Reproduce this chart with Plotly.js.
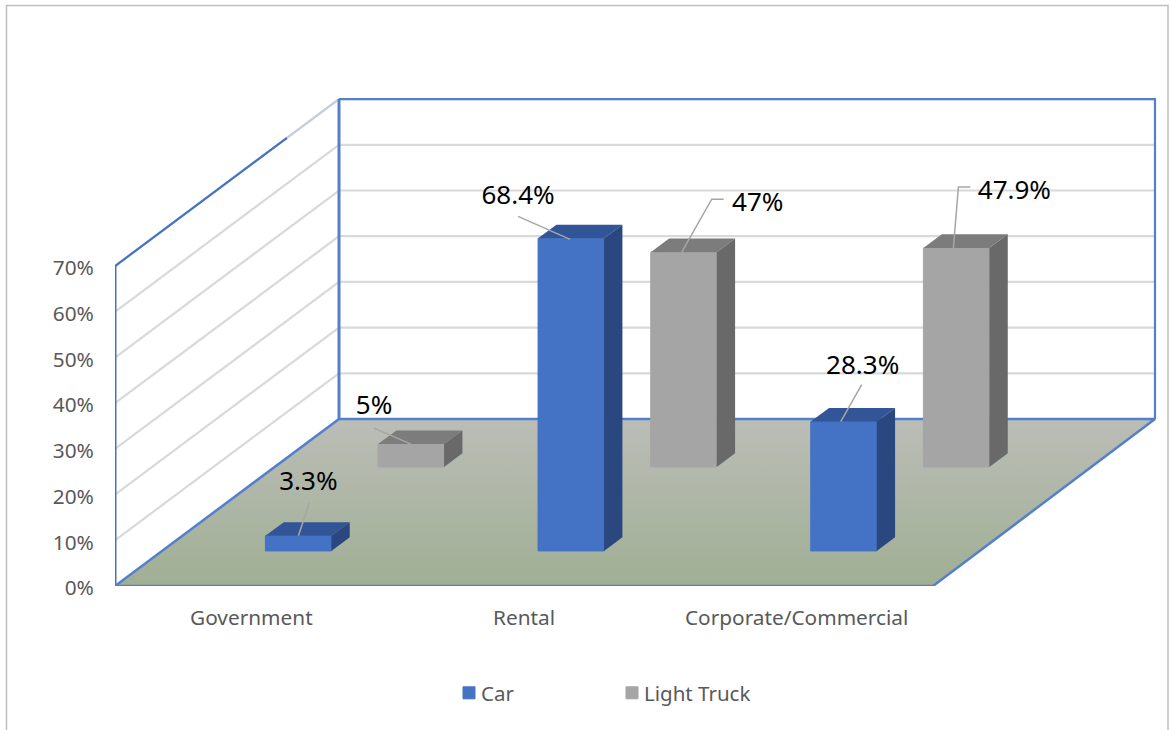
<!DOCTYPE html>
<html>
<head>
<meta charset="utf-8">
<script src="https://cdn.plot.ly/plotly-3.0.1.min.js"></script>
<style>html,body{margin:0;padding:0;background:#fff;overflow:hidden}</style>
</head>
<body>
<div id="chart" style="width:1170px;height:730px"></div>
<script>
// Chart data
const categories = ['Government', 'Rental', 'Corporate/Commercial'];
const carValues = [3.3, 68.4, 28.3];
const lightTruckValues = [5, 47, 47.9];
const axisTicks = [0, 10, 20, 30, 40, 50, 60, 70];
const axisTickLabels = ['0%', '10%', '20%', '30%', '40%', '50%', '60%', '70%'];

// Canvas geometry, in pixels
const W = 1170, H = 730;
const ORIGIN_X = 115, ORIGIN_Y = 586, RIGHT_X = 1160, TOP_Y = 90;
const PX_PER_CATEGORY = 272.67, PX_PER_PERCENT = 4.57;

// Oblique projection: depth 0 is the front of the floor, depth 1 the back wall
const SHEAR_X = 224 / PX_PER_CATEGORY;
const SHEAR_Y = 167 / PX_PER_PERCENT;
const BACK_RIGHT = (1155 - ORIGIN_X) / PX_PER_CATEGORY;
const BAR_WIDTH = 66 / PX_PER_CATEGORY;
const BAR_DEPTH = 0.082;
const CAR_DEPTH = 0.21, TRUCK_DEPTH = 0.713;
const pxX = px => px / PX_PER_CATEGORY;
const pxY = px => px / PX_PER_PERCENT;

const BLUE = '#4472C4', EDGE = '#5480CB', GRID = '#D9D9D9', LEADER = '#A6A6A6';
const FONT = '"Noto Sans", sans-serif';

// Leader lines and label centres, as pixel offsets from each bar's top front-left corner
const carLeaders = [[[33, 0], [44, 33]], [[32, -1], [-20, 22]], [[30, 0], [51, 37]]];
const truckLeaders = [[[33, 0], [-4, 16]], [[31, 0], [61, 53], [73, 53]], [[30, 0], [35, 61], [47, 61]]];
const carLabels = [[43, 52], [-20, 41], [52, 54]];
const truckLabels = [[-4, 37], [107, 48], [91, 56]];

function line(x, y, color, width, zorder) {
  return {type: 'scatter', mode: 'lines', x, y, showlegend: false, hoverinfo: 'skip', cliponaxis: false,
          line: {color, width}, zorder};
}

function poly(x, y, color, zorder) {
  return {type: 'scatter', mode: 'none', x, y, fill: 'toself', fillcolor: color, showlegend: false,
          hoverinfo: 'skip', cliponaxis: false, zorder};
}

// One series: a real bar trace for the front faces, polygons for the top and side faces,
// then leader lines and value labels.
function series(name, values, depth, colors, leaders, labels) {
  const dx = SHEAR_X * depth, dy = SHEAR_Y * depth;
  const cx = categories.map((_, i) => i + 0.5 + dx);
  const bx = SHEAR_X * BAR_DEPTH, by = SHEAR_Y * BAR_DEPTH;
  const hw = BAR_WIDTH / 2;
  const tx = [], ty = [], sx = [], sy = [], lx = [], ly = [], tex = [], tey = [];
  values.forEach((v, i) => {
    const L = cx[i] - hw, R = cx[i] + hw, top = dy + v;
    tx.push(L, R, R + bx, L + bx, L, null);
    ty.push(top, top, top + by, top + by, top, null);
    sx.push(R, R + bx, R + bx, R, R, null);
    sy.push(dy, dy + by, top + by, top, dy, null);
    leaders[i].forEach(o => { lx.push(L + pxX(o[0])); ly.push(top + pxY(o[1])); });
    lx.push(null); ly.push(null);
    tex.push(L + pxX(labels[i][0]));
    tey.push(top + pxY(labels[i][1]));
  });
  return [
    {type: 'bar', name, x: cx, y: values, base: values.map(() => dy), width: BAR_WIDTH,
     marker: {color: colors[0], line: {color: colors[0], width: 1}}, hoverinfo: 'skip', zorder: 3},
    poly(tx, ty, colors[1], 3),
    poly(sx, sy, colors[2], 3),
    line(lx, ly, LEADER, 1.5, 4),
    {type: 'scatter', mode: 'text', x: tex, y: tey, text: values.map(v => v + '%'),
     textposition: 'middle center', textfont: {family: FONT, size: 26, color: '#000'},
     showlegend: false, hoverinfo: 'skip', cliponaxis: false, zorder: 5}
  ];
}

const traces = [];

// Gridlines run along the left wall, then across the back wall
axisTicks.slice(1).forEach(v => {
  traces.push(line([0, SHEAR_X, BACK_RIGHT], [v, v + SHEAR_Y, v + SHEAR_Y], GRID, 2.2, 0));
});

// Wall outlines
const wallTop = axisTicks[axisTicks.length - 1];
traces.push(line([0, 0], [0, wallTop], BLUE, 3, 1));
traces.push(line([0, SHEAR_X * 0.768], [wallTop, wallTop + SHEAR_Y * 0.768], BLUE, 2.2, 1));
traces.push(line([SHEAR_X * 0.768, SHEAR_X], [wallTop + SHEAR_Y * 0.768, wallTop + SHEAR_Y], '#C5CEE0', 2, 1));
traces.push(line([SHEAR_X, SHEAR_X], [SHEAR_Y, wallTop + SHEAR_Y], EDGE, 3, 1));
traces.push(line([SHEAR_X, BACK_RIGHT, BACK_RIGHT], [wallTop + SHEAR_Y, wallTop + SHEAR_Y, SHEAR_Y], EDGE, 2.2, 1));

// Floor with its vertical gradient
traces.push({type: 'scatter', mode: 'lines', x: [0, 3, BACK_RIGHT, SHEAR_X, 0], y: [0, 0, SHEAR_Y, SHEAR_Y, 0],
  fill: 'toself', fillgradient: {type: 'vertical', colorscale: [[0, '#A0AF94'], [1, '#BBBDB7']]},
  line: {color: EDGE, width: 2.5}, showlegend: false, hoverinfo: 'skip', cliponaxis: false, zorder: 2});

traces.push(...series('Car', carValues, CAR_DEPTH, [BLUE, '#315597', '#2A477F'], carLeaders, carLabels));
traces.push(...series('Light Truck', lightTruckValues, TRUCK_DEPTH, ['#A5A5A5', '#7C7C7C', '#696969'], truckLeaders, truckLabels));

// Frame around the chart area, open at the bottom
const pax = px => (px - ORIGIN_X) / (RIGHT_X - ORIGIN_X);
const pay = py => (ORIGIN_Y - py) / (ORIGIN_Y - TOP_Y);
const frame = {type: 'path', xref: 'paper', yref: 'paper',
  path: `M${pax(6.5)},${pay(730)} L${pax(6.5)},${pay(5.5)} L${pax(1168)},${pay(5.5)} L${pax(1168)},${pay(730)}`,
  line: {color: '#BFBFBF', width: 1.5}, layer: 'below'};

const layout = {
  width: W, height: H,
  margin: {l: ORIGIN_X, r: W - RIGHT_X, t: TOP_Y, b: H - ORIGIN_Y, autoexpand: false},
  paper_bgcolor: '#fff', plot_bgcolor: 'rgba(0,0,0,0)',
  barmode: 'overlay',
  font: {family: FONT, color: '#595959', size: 20.8},
  shapes: [frame],
  xaxis: {range: [0, (RIGHT_X - ORIGIN_X) / PX_PER_CATEGORY], tickmode: 'array',
          tickvals: categories.map((_, i) => i + 0.5), ticktext: categories,
          ticks: 'outside', ticklen: 13, tickcolor: 'rgba(0,0,0,0)', showgrid: false, zeroline: false,
          showline: false, tickangle: 0, automargin: false},
  yaxis: {range: [0, (ORIGIN_Y - TOP_Y) / PX_PER_PERCENT], tickmode: 'array', tickvals: axisTicks,
          ticktext: axisTickLabels, ticks: 'outside', ticklen: 16, ticklabelshift: 2,
          tickcolor: 'rgba(0,0,0,0)', showgrid: false, zeroline: false, showline: false, automargin: false},
  legend: {orientation: 'h', xref: 'container', yref: 'container', x: 449 / W, y: 1 - 693 / H,
           xanchor: 'left', yanchor: 'middle', entrywidth: 126, entrywidthmode: 'pixels',
           indentation: -8, traceorder: 'normal', font: {family: FONT, size: 20.5, color: '#595959'},
           bgcolor: 'rgba(0,0,0,0)'}
};

Plotly.newPlot('chart', traces, layout, {displayModeBar: false, staticPlot: true}).then(() => {
  // Tighten the gap between each legend swatch and its text
  document.querySelectorAll('#chart .legendsymbols').forEach(g => g.setAttribute('transform', 'translate(8,0)'));
});
</script>
</body>
</html>
